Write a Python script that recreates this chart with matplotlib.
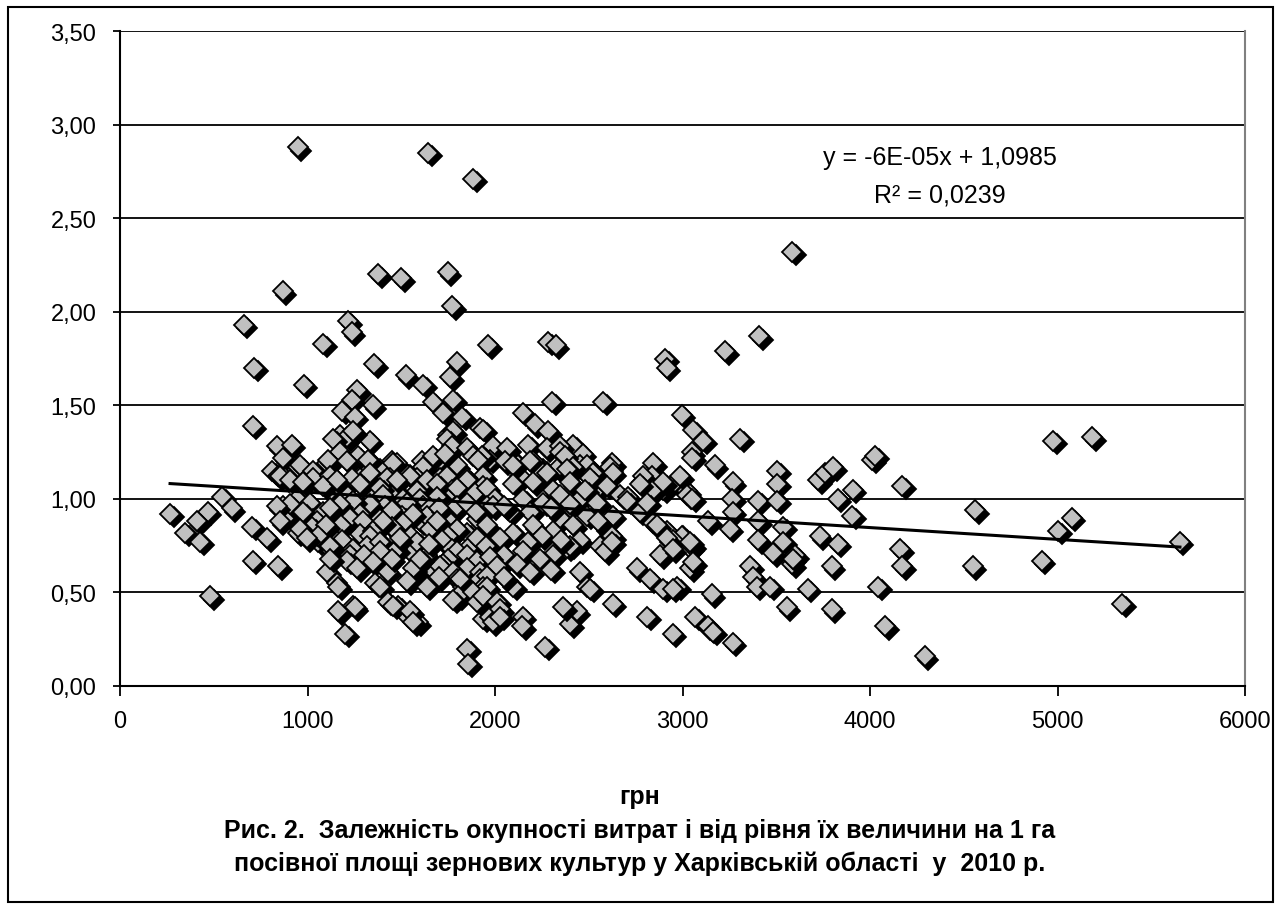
import matplotlib
matplotlib.use("Agg")
import matplotlib.pyplot as plt
import matplotlib.transforms as mtransforms
from matplotlib.patches import Rectangle
from matplotlib.ticker import FuncFormatter

plt.rcParams['font.family'] = ['Liberation Sans', 'DejaVu Sans']

# витрати на 1 га, грн  /  окупність витрат
points = [
    # outliers / top
    (949, 2.88), (1643, 2.85), (1883, 2.71), (3584, 2.32),
    (869, 2.11), (1376, 2.20), (1499, 2.18), (1749, 2.21), (1771, 2.03),
    (661, 1.93), (1216, 1.95), (1237, 1.89), (1083, 1.83), (1963, 1.82),
    (2283, 1.84), (2325, 1.82), (3408, 1.87), (3227, 1.79), (2907, 1.75), (2917, 1.70),
    (715, 1.70), (1355, 1.72), (1525, 1.66), (1616, 1.61), (1797, 1.73), (1760, 1.65),
    (981, 1.61), (1264, 1.58), (709, 1.39),
    # 1.3 - 1.55
    (1349, 1.50), (1237, 1.53), (1184, 1.47), (1253, 1.44), (1669, 1.52), (1776, 1.53),
    (1723, 1.46), (1824, 1.44), (1920, 1.38), (1749, 1.34), (1173, 1.34), (1211, 1.33),
    (1333, 1.31), (837, 1.28), (917, 1.29), (2304, 1.52), (2576, 1.52), (2997, 1.45),
    (3056, 1.37), (3110, 1.31), (2149, 1.46), (2213, 1.40), (2283, 1.36), (1936, 1.37),
    (2176, 1.29), (2416, 1.29), (2469, 1.24), (2277, 1.27), (1989, 1.28), (3307, 1.32),
    (4976, 1.31), (5184, 1.33), (1136, 1.32), (1243, 1.36), (1776, 1.36), (1744, 1.32),
    (2347, 1.28),
    # 1.1 - 1.3
    (869, 1.22), (949, 1.17), (811, 1.15), (843, 1.12), (880, 1.11), (1024, 1.13),
    (1104, 1.19), (1173, 1.25), (2624, 1.19), (2843, 1.19), (3050, 1.25), (3173, 1.18),
    (3269, 1.09), (3504, 1.15), (3504, 1.08), (3723, 1.10), (3760, 1.14), (3803, 1.17),
    (3909, 1.05), (4011, 1.21), (4027, 1.23), (4171, 1.07), (3051, 1.22), (2613, 1.17),
    (2347, 1.25), (2384, 1.21), (2256, 1.16), (2203, 1.20), (2096, 1.21), (2064, 1.27),
    (2133, 1.12), (2331, 1.16), (2453, 1.18), (2507, 1.11), (2560, 1.07), (2784, 1.09),
    (2837, 1.12), (2896, 1.05), (2960, 1.09), (3024, 1.04), (960, 1.18), (1029, 1.15),
    (1109, 1.21), (1269, 1.23), (1333, 1.20), (1211, 1.20), (1451, 1.20), (1477, 1.19),
    (1387, 1.16), (1611, 1.20), (1707, 1.21), (1771, 1.28), (1851, 1.27), (1883, 1.23),
    (1931, 1.20), (1797, 1.18), (1653, 1.14), (1547, 1.13), (1973, 1.21), (1931, 1.23),
    (2053, 1.20), (2096, 1.18), (2187, 1.20), (2256, 1.14), (2373, 1.23), (2491, 1.18),
    (2416, 1.17), (2533, 1.14), (2789, 1.12), (1323, 1.21), (1456, 1.19), (1536, 1.13),
    (1616, 1.17), (1669, 1.23), (1733, 1.24), (1909, 1.21), (1936, 1.12), (1851, 1.11),
    (1707, 1.11), (1584, 1.11), (1440, 1.11), (1280, 1.11), (1157, 1.10), (2277, 1.14),
    (2384, 1.16), (2629, 1.14), (2523, 1.14), (2987, 1.12),
    # 1.0 - 1.1
    (853, 1.12), (907, 1.10), (1029, 1.11), (1120, 1.12), (1237, 1.11), (1333, 1.14),
    (1424, 1.11), (1547, 1.12), (1637, 1.10), (1744, 1.12), (1851, 1.10), (1936, 1.07),
    (1120, 1.04), (1189, 1.04), (1317, 1.04), (1477, 1.04), (1584, 1.04), (1771, 1.05),
    (976, 1.09), (1083, 1.07), (1157, 1.10), (1280, 1.08), (1387, 1.06), (1477, 1.10),
    (1691, 1.08), (1797, 1.06), (1893, 1.03), (2843, 1.05), (2896, 1.09), (3024, 1.02),
    (2773, 1.08), (2096, 1.08), (2203, 1.09), (2309, 1.05), (2400, 1.09), (2507, 1.11),
    (2597, 1.07), (2667, 1.02), (1957, 1.06), (2709, 1.01), (544, 1.01), (1691, 1.01),
    (1509, 1.00), (1600, 1.00), (944, 1.00), (3051, 1.00), (3264, 1.00), (3403, 0.99),
    (3504, 0.99), (3829, 1.00), (2704, 0.99), (2453, 1.00), (2347, 1.02),
    (1400, 1.02), (2000, 1.00), (2150, 1.00), (2480, 1.05), (1250, 0.96),
    # 0.9 - 1.0
    (267, 0.92), (469, 0.93), (597, 0.95), (869, 0.96), (891, 0.91), (1013, 0.98),
    (1029, 0.89), (1797, 0.96), (1616, 0.96), (1531, 0.98), (1413, 0.96), (1333, 0.97),
    (1243, 0.99), (1173, 0.97), (1083, 0.93), (907, 0.97), (837, 0.96), (976, 0.93),
    (1120, 0.95), (1280, 0.92), (1957, 0.96), (1653, 0.95), (1504, 0.91), (1227, 0.90),
    (1387, 0.89), (1600, 0.88), (1744, 0.89), (1904, 0.89), (1637, 0.91), (2773, 0.93),
    (2629, 0.91), (2347, 0.90), (2491, 0.91), (2544, 0.98), (2256, 0.98), (2187, 0.93),
    (2080, 0.93), (1989, 0.96), (3269, 0.93), (3904, 0.91), (4560, 0.94), (5077, 0.90),
    (2811, 0.98), (1450, 0.94), (1560, 0.92), (1700, 0.95), (1850, 0.98), (1900, 0.93),
    (2050, 0.96), (2300, 0.95), (2400, 0.97),
    # 0.8 - 0.9
    (411, 0.88), (347, 0.82), (704, 0.85), (853, 0.88), (1051, 0.88), (949, 0.82),
    (1024, 0.85), (960, 0.84), (1296, 0.88), (1509, 0.87), (1653, 0.84), (1280, 0.81),
    (1349, 0.83), (1477, 0.82), (1851, 0.82), (1691, 0.88), (1797, 0.84), (1957, 0.86),
    (2096, 0.82), (2309, 0.83), (2416, 0.86), (2597, 0.83), (2843, 0.87), (2917, 0.83),
    (2864, 0.86), (3136, 0.88), (3253, 0.84), (3403, 0.88), (3536, 0.85), (5003, 0.83),
    (1333, 0.80), (3003, 0.80), (2997, 0.80), (2624, 0.80), (3733, 0.80),
    (2200, 0.86), (2550, 0.88), (1450, 0.85), (1550, 0.80), (1750, 0.80), (2250, 0.80),
    (1400, 0.88), (1180, 0.86), (1100, 0.86),
    # 0.7 - 0.8
    (427, 0.77), (784, 0.79), (1056, 0.77), (1131, 0.72), (1056, 0.80), (997, 0.79),
    (1547, 0.72), (1584, 0.77), (1317, 0.75), (1387, 0.77), (1184, 0.78), (1120, 0.75),
    (1717, 0.78), (1771, 0.73), (1867, 0.75), (1477, 0.73), (1387, 0.72), (1493, 0.79),
    (1243, 0.73), (1637, 0.70), (1904, 0.79), (1797, 0.72), (1227, 0.70), (2176, 0.77),
    (2027, 0.79), (2453, 0.78), (2384, 0.74), (2560, 0.75), (2587, 0.72), (2309, 0.70),
    (2400, 0.75), (2624, 0.77), (2880, 0.70), (2949, 0.78), (3040, 0.74), (2917, 0.79),
    (2949, 0.73), (3051, 0.75), (3040, 0.77), (3403, 0.78), (3536, 0.77), (3483, 0.71),
    (3600, 0.70), (3829, 0.76), (4160, 0.73), (5653, 0.77), (1749, 0.68),
    (1650, 0.76), (1850, 0.70), (1950, 0.75), (2050, 0.70), (2150, 0.72), (2350, 0.78),
    (1300, 0.70),
    # 0.6 - 0.7
    (709, 0.67), (843, 0.64), (1211, 0.67), (1104, 0.61), (1120, 0.68), (1349, 0.66),
    (1429, 0.61), (1589, 0.61), (1680, 0.61), (1723, 0.65), (1904, 0.67), (1264, 0.63),
    (1563, 0.63), (1851, 0.63), (1707, 0.64), (1776, 0.61), (1920, 0.61), (1973, 0.69),
    (2011, 0.64), (2117, 0.65), (2187, 0.61), (2240, 0.68), (2453, 0.61), (2757, 0.63),
    (3040, 0.63), (3056, 0.66), (3584, 0.65), (3797, 0.64), (4171, 0.64), (3360, 0.64),
    (4549, 0.64), (4917, 0.67), (3589, 0.68), (1450, 0.68), (1600, 0.68), (2300, 0.62),
    # 0.5 - 0.6
    (1157, 0.55), (1163, 0.53), (1360, 0.55), (1531, 0.56), (1637, 0.53), (1797, 0.57),
    (1829, 0.53), (1920, 0.57), (1957, 0.59), (1936, 0.53), (2096, 0.53), (2491, 0.53),
    (2507, 0.52), (2827, 0.57), (2896, 0.52), (2971, 0.53), (2949, 0.52), (3376, 0.58),
    (3397, 0.53), (3467, 0.53), (3669, 0.52), (4043, 0.53), (1387, 0.53), (1957, 0.53),
    (1813, 0.57), (1700, 0.58), (2050, 0.58),
    # 0.3 - 0.5
    (480, 0.48), (1243, 0.43), (1163, 0.40), (1253, 0.42), (1429, 0.45), (1483, 0.43),
    (1536, 0.37), (1589, 0.34), (1803, 0.48), (1936, 0.36), (1883, 0.50), (1776, 0.46),
    (1904, 0.45), (1936, 0.48), (2011, 0.45), (1973, 0.37), (1989, 0.34), (2027, 0.41),
    (2149, 0.37), (2144, 0.32), (2400, 0.33), (2437, 0.40), (2363, 0.42), (2629, 0.44),
    (2811, 0.37), (3067, 0.37), (3147, 0.30), (3157, 0.49), (3557, 0.42), (3797, 0.41),
    (4080, 0.32), (5344, 0.44), (3136, 0.32), (1456, 0.43), (1547, 0.40), (1563, 0.34),
    (2027, 0.37),
    # below 0.3
    (1200, 0.28), (1851, 0.20), (1856, 0.12), (2267, 0.21), (2949, 0.28), (3269, 0.23),
    (4293, 0.16), (3163, 0.29),
]
cost = [p[0] for p in points]
payback = [p[1] for p in points]

# linear trend (Excel)
slope = -0.000063
intercept = 1.0985
eq_line1 = 'y = -6E-05x + 1,0985'
eq_line2 = 'R² = 0,0239'

W, H = 1281, 912
fig = plt.figure(figsize=(W / 100, H / 100), dpi=100)
ax = fig.add_axes([120 / W, 1 - 687 / H, 1125 / W, 655 / H])

ax.set_xlim(0, 6000)
ax.set_ylim(0, 3.5)
ax.set_xticks(range(0, 6001, 1000))
ax.set_yticks([i * 0.5 for i in range(8)])
ax.yaxis.set_major_formatter(FuncFormatter(lambda v, p: f'{v:.2f}'.replace('.', ',')))
ax.yaxis.grid(True, color='black', lw=1.3)
ax.set_axisbelow(True)

for s in ['left', 'bottom']:
    ax.spines[s].set_linewidth(1.5)
ax.spines['top'].set_visible(False)
ax.spines['right'].set_color('#808080')
ax.spines['right'].set_linewidth(1.5)
ax.tick_params(axis='y', length=5, width=1.3, pad=12, labelsize=17)
ax.tick_params(axis='x', length=7, width=1.3, pad=10, labelsize=17)

shadow = mtransforms.offset_copy(ax.transData, fig=fig, x=3.5, y=-3.5, units='dots')
for xi, yi in zip(cost, payback):
    ax.plot(xi, yi, marker='D', ms=10, color='black', mec='black', mew=1.3,
            transform=shadow, zorder=3)
    ax.plot(xi, yi, marker='D', ms=10, mfc='#C0C0C0', mec='black', mew=1.3, zorder=3)

x0, x1 = min(cost), max(cost)
ax.plot([x0, x1], [intercept + slope * x0, intercept + slope * x1],
        color='black', lw=2.2, zorder=4)

fig.text(940 / W, 1 - 158 / H, eq_line1, ha='center', va='center', fontsize=18)
fig.text(940 / W, 1 - 196 / H, eq_line2, ha='center', va='center', fontsize=18)

fig.text(640 / W, 1 - 797 / H, 'грн', ha='center', va='center',
         fontsize=18, fontweight='bold')
fig.text(640 / W, 1 - 831 / H,
         'Рис. 2.  Залежність окупності витрат і від рівня їх величини на 1 га',
         ha='center', va='center', fontsize=18, fontweight='bold')
fig.text(640 / W, 1 - 864 / H,
         'посівної площі зернових культур у Харківській області  у  2010 р.',
         ha='center', va='center', fontsize=18, fontweight='bold')

fig.patches.append(Rectangle((8 / W, 1 - 903 / H), 1265 / W, 895 / H,
                             transform=fig.transFigure, fill=False, ec='black', lw=1.5))

fig.savefig('out.png', dpi=100)
